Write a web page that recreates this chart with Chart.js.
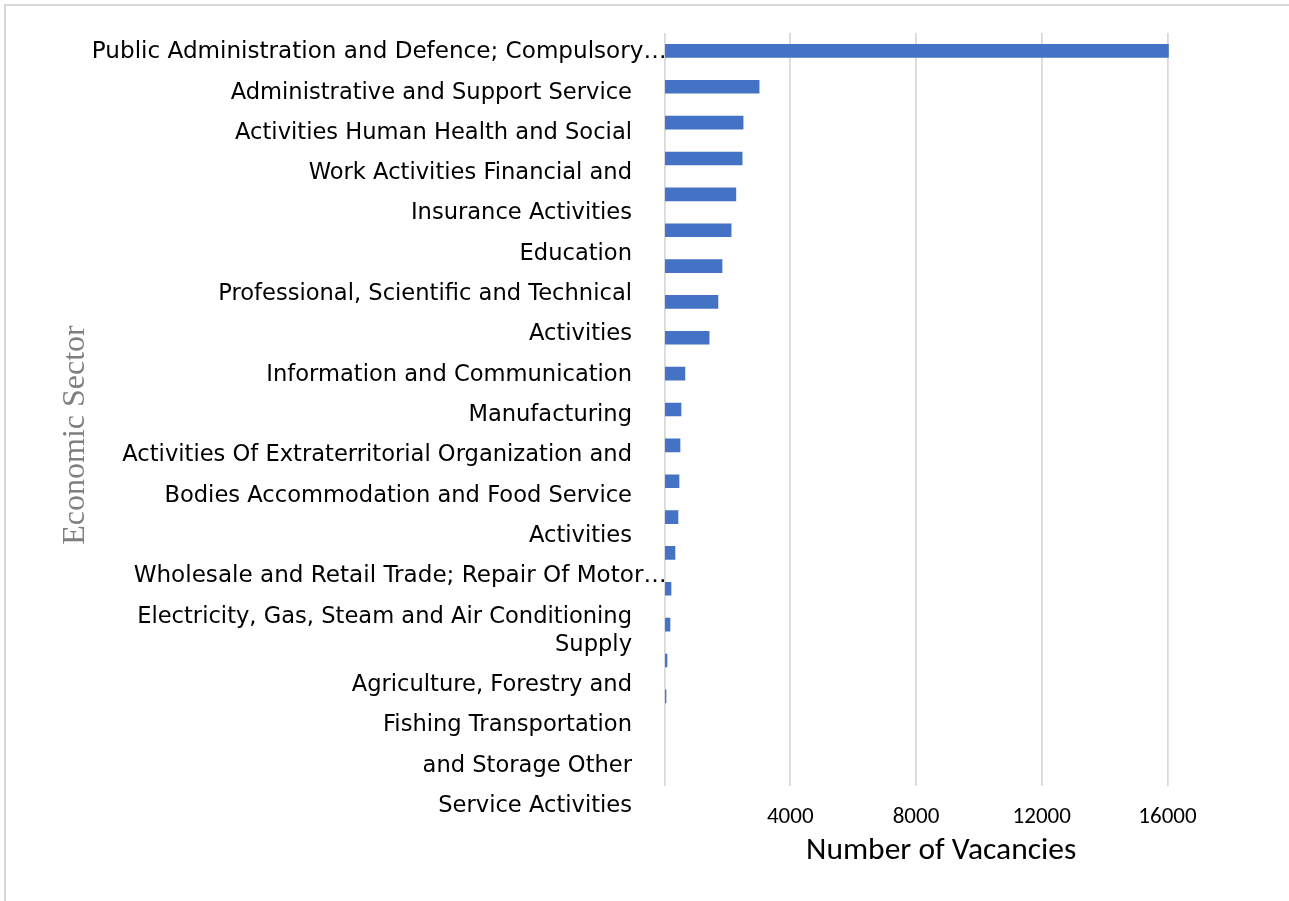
<!DOCTYPE html>
<html lang="en">
<head>
<meta charset="UTF-8">
<title>Vacancies by Economic Sector</title>
<script src="https://cdn.jsdelivr.net/npm/chart.js"></script>
<style>
  html, body { margin: 0; padding: 0; background: #fff; overflow: hidden; }
  #wrap { position: relative; width: 1289px; height: 901px; }
</style>
</head>
<body>
<div id="wrap"><canvas id="chart"></canvas></div>
<script>
// text lines printed down the left side, top to bottom
const sectorLabels = [
  "Public Administration and Defence; Compulsory…",
  "Administrative and Support Service",
  "Activities Human Health and Social",
  "Work Activities Financial and",
  "Insurance Activities",
  "Education",
  "Professional, Scientific and Technical",
  "Activities",
  "Information and Communication",
  "Manufacturing",
  "Activities Of Extraterritorial Organization and",
  "Bodies Accommodation and Food Service",
  "Activities",
  "Wholesale and Retail Trade; Repair Of Motor…",
  ["Electricity, Gas, Steam and Air Conditioning", "Supply"],
  "Agriculture, Forestry and",
  "Fishing Transportation",
  "and Storage Other",
  "Service Activities"
];

// bar lengths, top to bottom
const vacancies = [16030, 3010, 2500, 2470, 2270, 2120, 1830, 1700, 1420, 650,
                   525, 493, 461, 429, 334, 207, 175, 80, 48];

const xTicks = [0, 4000, 8000, 12000, 16000];
const xMax = 17600;

// row position of each label (a wrapped line adds less than a full row)
const WRAP_ROW = 0.7;
let row = 0;
const labelRows = sectorLabels.map(l => {
  const n = Array.isArray(l) ? l.length : 1;
  const v = row + (n - 1) * WRAP_ROW / 2;
  row += 1 + (n - 1) * WRAP_ROW;
  return v;
});
const isCut = l => typeof l === "string" && l.endsWith("…");

const labelFamily = "'DejaVu Sans'";
const numFont = "Calibri, Carlito, Roboto";

// cut labels run right up to the bars, so measure them to place them
const cutSize = 23.1;
const mctx = document.createElement("canvas").getContext("2d");
mctx.font = cutSize + "px " + labelFamily;
const cutWidth = Math.max(...sectorLabels.filter(isCut).map(t => mctx.measureText(t).width));

function labelAxis(cut) {
  return {
    type: "linear",
    position: "left",
    bounds: "data",
    offset: false,
    reverse: true,
    min: -0.48,
    max: 18.205,
    weight: cut ? 1 : 2,
    grid: { display: false, drawTicks: false },
    border: { display: false },
    afterBuildTicks: s => {
      s.ticks = labelRows
        .filter((v, i) => isCut(sectorLabels[i]) === cut)
        .map(v => ({ value: v }));
    },
    afterFit: s => {
      s.width = cut ? 0 : 569.8;
      s.paddingTop = 0;
      s.paddingBottom = 0;
    },
    ticks: {
      autoSkip: false,
      mirror: cut,
      crossAlign: cut ? "far" : "near",
      padding: cut ? 2 - cutWidth : 32.5,
      color: "#000",
      font: { family: labelFamily, size: cut ? cutSize : 22.6, lineHeight: 1.24 },
      callback: v => sectorLabels[labelRows.indexOf(v)]
    }
  };
}

const framePlugin = {
  id: "frame",
  beforeDraw(chart) {
    const c = chart.ctx;
    c.save();
    c.fillStyle = "#fff";
    c.fillRect(0, 0, chart.width, chart.height);
    c.strokeStyle = "#d9d9d9";
    c.lineWidth = 2;
    c.beginPath();
    c.moveTo(5, chart.height);
    c.lineTo(5, 5);
    c.lineTo(chart.width, 5);
    c.stroke();
    c.restore();
  }
};

new Chart(document.getElementById("chart"), {
  type: "bar",
  data: {
    datasets: [{
      label: "Number of Vacancies",
      data: vacancies.map((v, i) => ({ x: v, y: i })),
      backgroundColor: "#4472C4",
      barThickness: 13
    }]
  },
  options: {
    indexAxis: "y",
    responsive: true,
    maintainAspectRatio: false,
    animation: false,
    layout: { padding: { left: 0, top: 0, right: 71.2, bottom: 31 } },
    plugins: {
      legend: { display: false },
      tooltip: { enabled: false },
      title: {
        display: true,
        position: "left",
        text: "Economic Sector",
        color: "#7f7f7f",
        font: { family: "'Liberation Serif', 'Times New Roman', serif", size: 32, weight: "normal", lineHeight: 1.2 },
        padding: { top: 56.3, bottom: 0 }
      }
    },
    scales: {
      x: {
        type: "linear",
        position: "bottom",
        bounds: "data",
        min: 0,
        max: xMax,
        grid: { color: "#d9d9d9", lineWidth: 1.75, drawTicks: false },
        border: { display: false },
        afterBuildTicks: s => { s.ticks = xTicks.map(v => ({ value: v })); },
        ticks: {
          padding: 17.5,
          color: "#000",
          font: { family: numFont, size: 23 },
          callback: v => v === 0 ? "" : String(v)
        },
        title: {
          display: true,
          text: "Number of Vacancies",
          color: "#000",
          font: { family: numFont, size: 31.5 },
          padding: { top: 0, bottom: 0 }
        },
        afterFit: s => { s.height = 84; }
      },
      xTop: {
        type: "linear",
        position: "top",
        grid: { display: false, drawTicks: false },
        border: { display: false },
        ticks: { display: false },
        afterFit: s => { s.height = 33; }
      },
      y: {
        type: "linear",
        display: false,
        bounds: "data",
        offset: false,
        reverse: true,
        min: -0.5,
        max: 20.5
      },
      yLabels: labelAxis(false),
      yCut: labelAxis(true)
    }
  },
  plugins: [framePlugin]
});
</script>
</body>
</html>
